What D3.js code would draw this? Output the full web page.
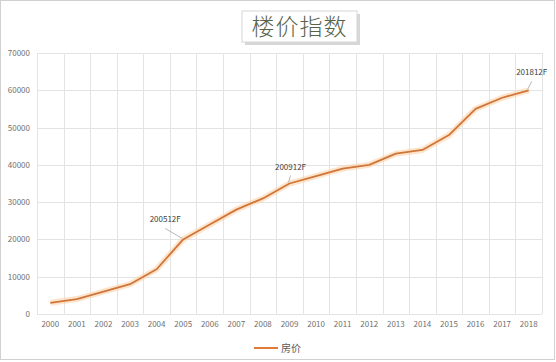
<!DOCTYPE html>
<html>
<head>
<meta charset="utf-8">
<script src="https://cdn.jsdelivr.net/npm/d3@7"></script>
<style>
body { margin: 0; background: #fff; }
text { font-family: "Noto Sans CJK SC", "DejaVu Sans", sans-serif; }
</style>
</head>
<body>
<div class="chart"></div>
<script>
"use strict";
(function(){

var years = ['2000','2001','2002','2003','2004','2005','2006','2007','2008','2009',
             '2010','2011','2012','2013','2014','2015','2016','2017','2018'];
var prices = [3000, 4000, 6000, 8000, 12000, 20000, 24000, 28000, 31000, 35000,
              37000, 39000, 40000, 43000, 44000, 48000, 55000, 58000, 60000];
var yTicks = [0, 10000, 20000, 30000, 40000, 50000, 60000, 70000];
var callouts = [
  {year: '2005', text: '200512F'},
  {year: '2009', text: '200912F'},
  {year: '2018', text: '201812F'}
];
var title = '楼价指数';
var seriesName = '房价';

var width = 556;
var height = 362;
var margin = {top: 53, right: 14, bottom: 48, left: 37};

var svg = d3.select('.chart')
            .append('svg')
            .attr('width', width)
            .attr('height', height);

svg.append('rect')
   .attr('x', 0.5).attr('y', 0.5)
   .attr('width', width - 2).attr('height', height - 3)
   .attr('fill', '#fff')
   .attr('stroke', '#d0d0d0');

var x = d3.scaleBand().domain(years).range([margin.left, width - margin.right]);
var y = d3.scaleLinear().domain([0, 70000]).range([height - margin.bottom, margin.top]);

function cx(d){ return x(d) + x.bandwidth() / 2 }

// gridlines
svg.append('g')
   .selectAll('line')
   .data(yTicks)
   .enter().append('line')
   .attr('x1', margin.left).attr('x2', width - margin.right)
   .attr('y1', function(d){ return Math.round(y(d)) + 0.5 })
   .attr('y2', function(d){ return Math.round(y(d)) + 0.5 })
   .attr('stroke', '#e3e3e3');

svg.append('g')
   .selectAll('line')
   .data(years.concat(['end']))
   .enter().append('line')
   .attr('x1', function(d, i){ return Math.round(margin.left + i * x.step()) + 0.5 })
   .attr('x2', function(d, i){ return Math.round(margin.left + i * x.step()) + 0.5 })
   .attr('y1', y(70000)).attr('y2', y(0))
   .attr('stroke', '#e3e3e3');

// axes
var yAxis = svg.append('g')
   .attr('transform', 'translate(' + (margin.left - 4) + ',0)')
   .call(d3.axisLeft(y).tickValues(yTicks).tickSize(0).tickFormat(d3.format('d')));
yAxis.select('.domain').remove();
yAxis.selectAll('text').attr('fill', '#707070').style('font-size', '8px');

var xAxis = svg.append('g')
   .attr('transform', 'translate(0,' + y(0) + ')')
   .call(d3.axisBottom(x).tickSize(0).tickPadding(7));
xAxis.select('.domain').remove();
xAxis.selectAll('text').attr('fill', '#707070').style('font-size', '8px');

// line with glow
var line = d3.line()
   .x(function(d, i){ return cx(years[i]) })
   .y(function(d){ return y(d) });

svg.append('path')
   .datum(prices)
   .attr('d', line)
   .attr('fill', 'none')
   .attr('stroke', '#fbd3ab')
   .attr('stroke-opacity', 0.6)
   .attr('stroke-width', 6)
   .attr('stroke-linejoin', 'round');

svg.append('path')
   .datum(prices)
   .attr('d', line)
   .attr('fill', 'none')
   .attr('stroke', '#d07538')
   .attr('stroke-width', 1.8)
   .attr('stroke-linejoin', 'round');

// callouts
var offsets = {'2005': [-18, -17], '2009': [1, -14], '2018': [3, -15]};
callouts.forEach(function(c){
  var i = years.indexOf(c.year);
  var px = cx(c.year), py = y(prices[i]);
  var o = offsets[c.year];
  svg.append('line')
     .attr('x1', px - 1).attr('y1', py - 1)
     .attr('x2', px + o[0]).attr('y2', py + o[1] + 6)
     .attr('stroke', '#a6a6a6').attr('stroke-width', 0.8);
  svg.append('text')
     .attr('x', px + o[0]).attr('y', py + o[1])
     .attr('text-anchor', 'middle')
     .attr('fill', '#404040')
     .style('font-size', '8px')
     .text(c.text);
});

// title box
var tb = svg.append('g').attr('transform', 'translate(242,11)');
tb.append('rect')
  .attr('x', 3).attr('y', 3).attr('width', 115).attr('height', 31)
  .attr('fill', '#bdbdbd').attr('opacity', 0.6);
tb.append('rect')
  .attr('width', 115).attr('height', 31)
  .attr('fill', '#fff').attr('stroke', '#d6d6d6');
tb.append('text')
  .attr('x', 57.5).attr('y', 24)
  .attr('text-anchor', 'middle')
  .attr('fill', '#56634a')
  .style('font-size', '23px')
  .style('font-weight', '300')
  .style('letter-spacing', '1px')
  .text(title);

// legend
svg.append('line')
   .attr('x1', 254).attr('x2', 278)
   .attr('y1', 348).attr('y2', 348)
   .attr('stroke', '#e07b39').attr('stroke-width', 2);
svg.append('text')
   .attr('x', 281).attr('y', 351.5)
   .attr('fill', '#595959')
   .style('font-size', '10px')
   .text(seriesName);

})();
</script>
</body>
</html>
